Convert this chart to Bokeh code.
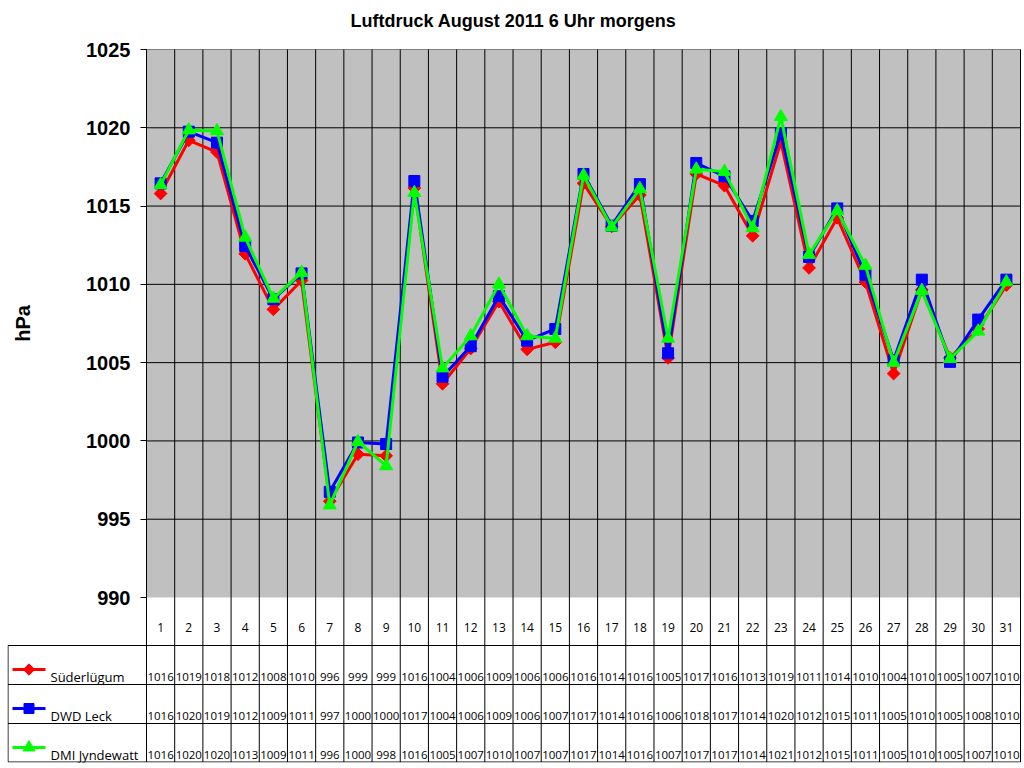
import math
from bokeh.plotting import figure
from bokeh.models import FixedTicker
from bokeh.core.properties import value
from bokeh.embed import file_html
from bokeh.resources import INLINE

# ---------------- data ----------------
title_text = "Luftdruck August 2011 6 Uhr morgens"
y_label = "hPa"
days = list(range(1, 32))
day_labels = [str(d) for d in days]

sud = [1015.8, 1019.2, 1018.45, 1011.95, 1008.4, 1010.25, 996.15, 999.15, 999.05, 1016.15,
       1003.65, 1005.9, 1008.9, 1005.85, 1006.3, 1016.45, 1013.7, 1015.7, 1005.3, 1017.05,
       1016.3, 1013.1, 1019.1, 1011.05, 1014.25, 1010.15, 1004.3, 1009.65, 1005.3, 1007.15, 1009.95]
dwd = [1016.45, 1019.75, 1019.05, 1012.45, 1009.05, 1010.7, 996.75, 999.9, 999.8, 1016.6,
       1004.1, 1006.05, 1009.25, 1006.4, 1007.15, 1017.05, 1013.75, 1016.4, 1005.6, 1017.75,
       1016.9, 1014.05, 1019.65, 1011.75, 1014.85, 1010.6, 1005.15, 1010.3, 1005.05, 1007.75, 1010.3]
dmi = [1016.35, 1019.85, 1019.8, 1013.0, 1009.1, 1010.75, 995.9, 999.95, 998.4, 1015.85,
       1004.65, 1006.7, 1010.0, 1006.7, 1006.55, 1016.95, 1013.65, 1016.1, 1006.55, 1017.35,
       1017.2, 1013.6, 1020.7, 1011.9, 1014.7, 1011.2, 1005.0, 1009.6, 1005.25, 1007.0, 1010.15]

series_names = ["Süderlügum", "DWD Leck", "DMI Jyndewatt"]
series_values = [sud, dwd, dmi]
series_colors = ["#FF0000", "#0000FF", "#00FF00"]
y_ticks = [990, 995, 1000, 1005, 1010, 1015, 1020, 1025]
Y_MIN, Y_MAX = 990, 1025

# ---------------- layout constants (pixels) ----------------
FRAME_L = 7          # left edge of the table / frame
FRAME_T = 2          # top edge of the frame
PLOT_L = 146         # left edge of the grey plot area
PLOT_R = 1020        # right edge
PLOT_T = 49          # top of grey area (1025)
PLOT_B = 597         # bottom of grey area (990)
TABLE_B = 762        # bottom of table
ROW_EDGES = [597, 645, 684, 723, 762]

PX_PER_DAY = (PLOT_R - PLOT_L) / len(days)
PX_PER_HPA = (PLOT_B - PLOT_T) / (Y_MAX - Y_MIN)
X0, X1 = 0.5, len(days) + 0.5
X_START = X0 - (PLOT_L - FRAME_L) / PX_PER_DAY
X_END = X1 + 1.0 / PX_PER_DAY


def dx(px):
    return X_START + (px - FRAME_L) / PX_PER_DAY


def dy(px):
    return Y_MAX - (px - PLOT_T) / PX_PER_HPA


Y_END = dy(FRAME_T)
Y_START = dy(TABLE_B)


def fmt(v):
    return str(int(math.floor(v + 0.5)))


FIG_W = (PLOT_R + 1) + 2
FIG_H = TABLE_B + 2

p = figure(width=FIG_W, height=FIG_H, x_range=(X_START, X_END), y_range=(Y_START, Y_END),
           output_backend="svg", toolbar_location=None, x_axis_location=None,
           min_border_left=FRAME_L, min_border_right=2, min_border_top=FRAME_T,
           min_border_bottom=2, background_fill_color="white", border_fill_color="white")
p.outline_line_color = None
p.xgrid.visible = False
p.ygrid.visible = False

# title
p.text(x=[dx(513)], y=[dy(20)], text=[title_text],
       text_font=value("Liberation Sans"), text_font_size="18px", text_font_style="bold",
       text_color="black", text_align="center", text_baseline="middle")

# grey plot area
p.quad(left=[X0], right=[X1], bottom=[Y_MIN], top=[Y_MAX], fill_color="#C0C0C0",
       line_color=None)

# grid lines of the plot area
hg = y_ticks[1:-1]
p.segment(x0=[X0] * len(hg), y0=hg, x1=[X1] * len(hg), y1=hg, line_color="black", line_width=1)
p.segment(x0=[X0], y0=[Y_MAX], x1=[X1], y1=[Y_MAX], line_color="#808080", line_width=1)
vx = [d + 0.5 for d in [0] + days]
p.segment(x0=vx, y0=[dy(TABLE_B - 0.5)] * len(vx), x1=vx, y1=[Y_MAX] * len(vx),
          line_color="black", line_width=1)

# y axis placed at the left edge of the grey area
ax = p.yaxis[0]
ax.fixed_location = X0
ax.bounds = (Y_MIN, Y_MAX)
ax.ticker = FixedTicker(ticks=y_ticks)
ax.major_label_text_font = "Liberation Sans"
ax.major_label_text_font_size = "20px"
ax.major_label_text_font_style = "bold"
ax.major_label_text_color = "black"
ax.major_label_standoff = 10
ax.major_tick_in = 0
ax.major_tick_out = 6
ax.major_tick_line_color = "black"
ax.minor_tick_line_color = None
ax.axis_line_color = "black"

# axis title
p.text(x=[dx(22)], y=[(Y_MIN + Y_MAX) / 2], text=[y_label], angle=math.pi / 2,
       text_font=value("Liberation Sans"), text_font_size="20px", text_font_style="bold",
       text_color="black", text_align="center", text_baseline="middle")

# series
for vals, col, mk in zip(series_values, series_colors, ["diamond", "square", "triangle"]):
    p.line(days, vals, line_color=col, line_width=3)
    if mk == "diamond":
        p.scatter(days, vals, marker="square", angle=math.pi / 4, size=9,
                  fill_color=col, line_color=col)
    elif mk == "square":
        p.scatter(days, vals, marker="square", size=11, fill_color=col, line_color=col)
    else:
        p.scatter(days, vals, marker="triangle", size=13, fill_color=col, line_color=col)

# ---------------- data table ----------------
left_x = dx(FRAME_L + 0.5)
hy = [dy(r) for r in ROW_EDGES[1:-1]] + [dy(TABLE_B - 0.5)]
p.segment(x0=[left_x] * len(hy), y0=hy, x1=[X1] * len(hy), y1=hy,
          line_color="black", line_width=1)
p.segment(x0=[left_x], y0=[dy(TABLE_B - 0.5)], x1=[left_x], y1=[dy(ROW_EDGES[1])],
          line_color="black", line_width=1)

p.text(x=days, y=[dy(627)] * len(days), text=day_labels,
       text_font=value("Open Sans"), text_font_size="12px", text_color="black",
       text_align="center", text_baseline="middle")

key_x0 = dx(12)
key_x1 = dx(45)
key_xm = dx(28.5)
name_x = dx(50)

for i, (name, vals, col) in enumerate(zip(series_names, series_values, series_colors)):
    rb = ROW_EDGES[i + 2]
    ty = dy(rb - 7.5)
    ky = dy(rb - 15)
    p.text(x=days, y=[ty] * len(days), text=[fmt(v) for v in vals],
           text_font=value("Open Sans"), text_font_size="11.5px", text_color="black",
           text_align="center", text_baseline="middle")
    p.text(x=[name_x], y=[ty], text=[name],
           text_font=value("Open Sans"), text_font_size="13px", text_color="black",
           text_align="left", text_baseline="middle")
    p.segment(x0=[key_x0], y0=[ky], x1=[key_x1], y1=[ky], line_color=col, line_width=3)
    if i == 0:
        p.scatter([key_xm], [ky], marker="square", angle=math.pi / 4, size=8,
                  fill_color=col, line_color=col)
    elif i == 1:
        p.scatter([key_xm], [ky], marker="square", size=10, fill_color=col, line_color=col)
    else:
        p.scatter([key_xm], [ky], marker="triangle", size=12, fill_color=col, line_color=col)

open("out.html", "w").write(file_html(p, INLINE))
